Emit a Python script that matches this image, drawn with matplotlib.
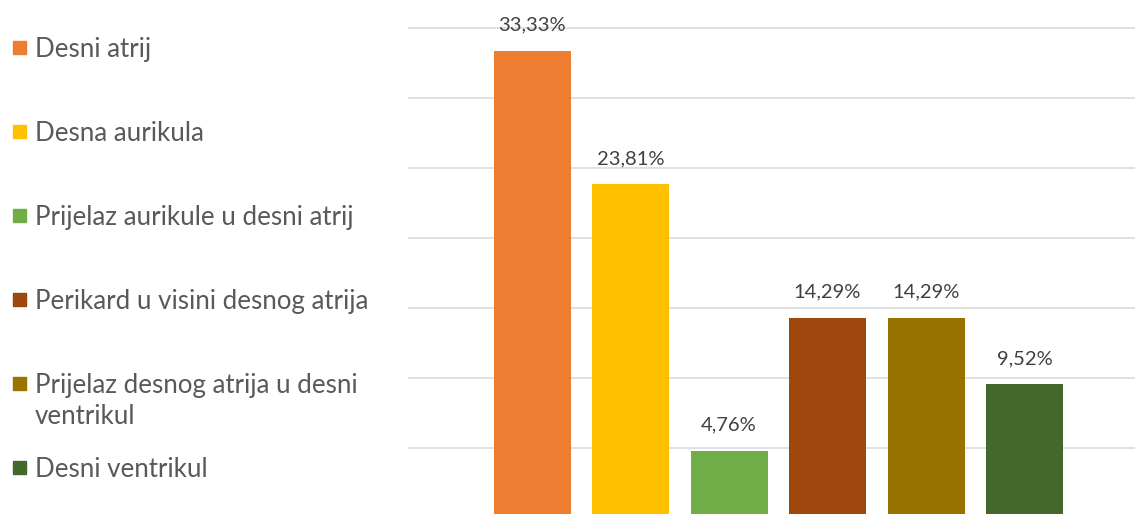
import matplotlib
matplotlib.use("Agg")
import matplotlib.pyplot as plt
from matplotlib.patches import Rectangle

categories = ["Desni atrij", "Desna aurikula", "Prijelaz aurikule u desni atrij",
              "Perikard u visini desnog atrija", "Prijelaz desnog atrija u desni\nventrikul",
              "Desni ventrikul"]
values = [33.33, 23.81, 4.76, 14.29, 14.29, 9.52]
value_labels = ["33,33%", "23,81%", "4,76%", "14,29%", "14,29%", "9,52%"]
colors = ["#ED7D31", "#FFC000", "#70AD47", "#9E480E", "#997300", "#43682B"]
grid_values = [5, 10, 15, 20, 25, 30, 35]

W, H = 1135, 514
fig = plt.figure(figsize=(W / 100, H / 100), dpi=100)
plt.rcParams['font.family'] = ['Lato', 'DejaVu Sans']

ax = fig.add_axes([408 / W, 0, (W - 408) / W, 1])
px_per = 14.0
zero_px = 517.7
ax.set_ylim((zero_px - H) / px_per, zero_px / px_per)
step = 98.5
c0 = 532
ax.set_xlim((408 - c0) / step, (W - c0) / step)

for g in grid_values:
    ax.axhline(g, color="#D9D9D9", lw=1.1, zorder=0)

xs = list(range(len(values)))
ax.bar(xs, values, width=77 / step, color=colors, zorder=2)
for x, v, lab in zip(xs, values, value_labels):
    ax.annotate(lab, (x, v), xytext=(0, 12.5), textcoords="offset points",
                ha="center", va="bottom", fontsize=14.5, color="#404040")

ax.axis("off")

# legend drawn manually
y0 = 47
dy = 84
line_dy = 31
for i, (cat, col) in enumerate(zip(categories, colors)):
    yc = y0 + i * dy
    fig.patches.append(Rectangle((13 / W, 1 - (yc + 7) / H), 13 / W, 13 / H,
                                 transform=fig.transFigure, color=col, figure=fig))
    for k, line in enumerate(cat.split("\n")):
        fig.text(35 / W, 1 - (yc + k * line_dy) / H, line, ha="left",
                 va="center_baseline", fontsize=18.6, color="#595959")

fig.savefig("out.png", dpi=100)
